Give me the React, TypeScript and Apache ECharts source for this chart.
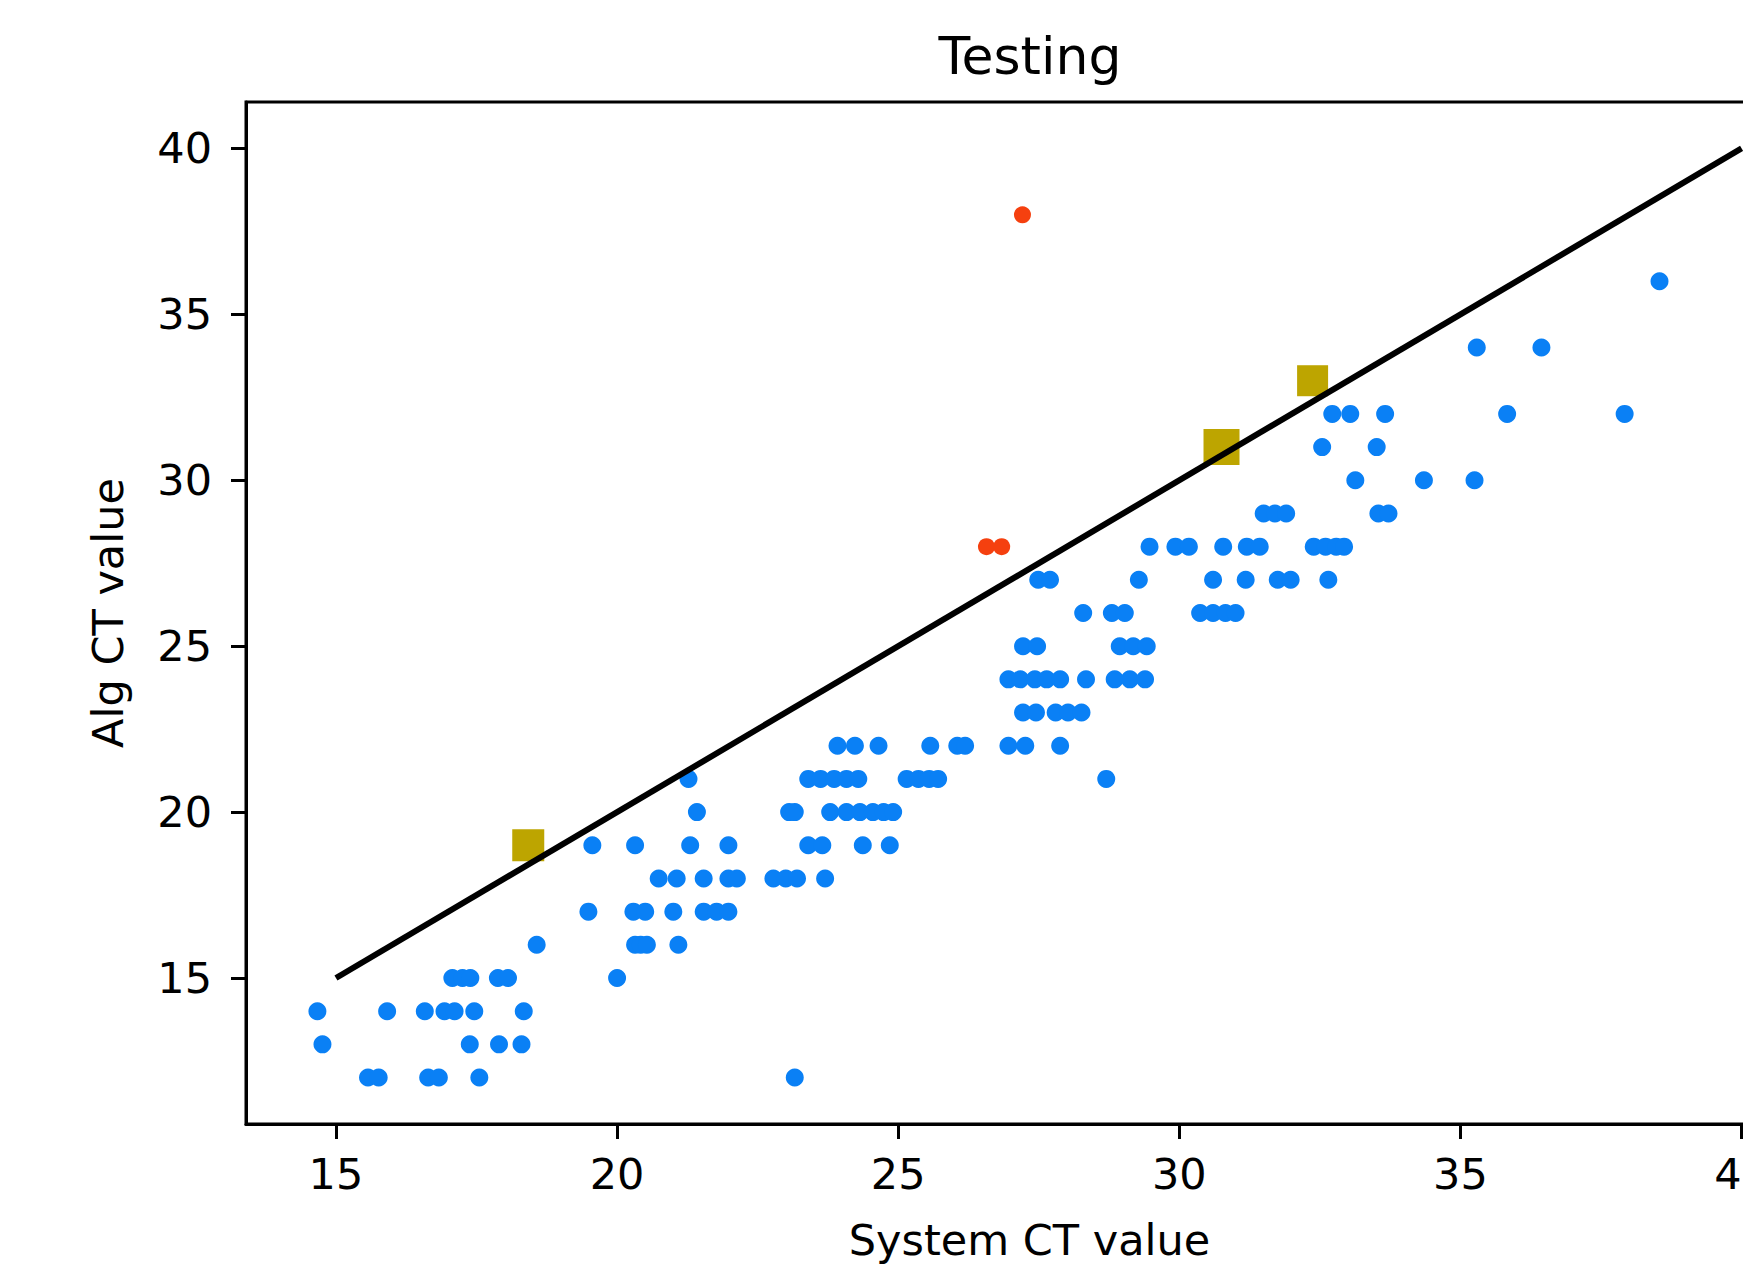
import React, { useEffect, useRef } from "react";
import * as echarts from "echarts";

const xTicks = [15, 20, 25, 30, 35, 40];
const yTicks = [15, 20, 25, 30, 35, 40];

const bluePoints: [number, number][] = [
  [38.54, 36],
  [35.29, 34], [36.44, 34],
  [32.72, 32], [33.04, 32], [33.66, 32], [35.83, 32], [37.92, 32],
  [32.54, 31], [33.51, 31],
  [33.13, 30], [34.35, 30], [35.25, 30],
  [31.5, 29], [31.7, 29], [31.9, 29], [33.54, 29], [33.72, 29],
  [29.47, 28], [29.93, 28], [30.17, 28], [30.78, 28], [31.2, 28], [31.43, 28], [32.39, 28], [32.6, 28], [32.79, 28], [32.93, 28],
  [27.49, 27], [27.7, 27], [29.28, 27], [30.6, 27], [31.18, 27], [31.75, 27], [31.98, 27], [32.65, 27],
  [28.29, 26], [28.8, 26], [29.03, 26], [30.37, 26], [30.6, 26], [30.82, 26], [31.0, 26],
  [27.22, 25], [27.47, 25], [28.94, 25], [29.18, 25], [29.42, 25],
  [26.96, 24], [27.17, 24], [27.43, 24], [27.64, 24], [27.88, 24], [28.34, 24], [28.85, 24], [29.12, 24], [29.39, 24],
  [27.22, 23], [27.45, 23], [27.8, 23], [28.02, 23], [28.26, 23],
  [23.92, 22], [24.23, 22], [24.65, 22], [25.57, 22], [26.05, 22], [26.19, 22], [26.96, 22], [27.26, 22], [27.88, 22],
  [21.27, 21], [23.4, 21], [23.62, 21], [23.86, 21], [24.08, 21], [24.29, 21], [25.15, 21], [25.36, 21], [25.55, 21], [25.71, 21], [28.7, 21],
  [21.42, 20], [23.06, 20], [23.16, 20], [23.79, 20], [24.08, 20], [24.32, 20], [24.55, 20], [24.74, 20], [24.91, 20],
  [19.56, 19], [20.32, 19], [21.3, 19], [21.98, 19], [23.4, 19], [23.65, 19], [24.37, 19], [24.85, 19],
  [20.74, 18], [21.06, 18], [21.54, 18], [21.98, 18], [22.13, 18], [22.78, 18], [23.0, 18], [23.2, 18], [23.7, 18],
  [19.49, 17], [20.29, 17], [20.5, 17], [21.0, 17], [21.54, 17], [21.77, 17], [21.98, 17],
  [18.57, 16], [20.32, 16], [20.42, 16], [20.53, 16], [21.09, 16],
  [17.07, 15], [17.25, 15], [17.39, 15], [17.88, 15], [18.06, 15], [20.0, 15],
  [14.67, 14], [15.91, 14], [16.58, 14], [16.93, 14], [17.11, 14], [17.46, 14], [18.34, 14],
  [14.76, 13], [17.38, 13], [17.9, 13], [18.3, 13],
  [15.57, 12], [15.76, 12], [16.64, 12], [16.83, 12], [17.55, 12], [23.16, 12],
];

const redPoints: [number, number][] = [
  [27.21, 38],
  [26.57, 28],
  [26.84, 28],
];

const yellowPoints: [number, number][] = [
  [18.42, 19],
  [30.75, 31],
  [32.37, 33],
];
const yellowSizes = [32, 36, 31];

const refLine: [number, number][] = [
  [15, 15],
  [40, 40],
];

const FONT = "DejaVu Sans";

export default function App() {
  const ref = useRef<HTMLDivElement>(null);
  useEffect(() => {
    document.body.style.margin = "0";
    document.body.style.overflow = "hidden";
    document.documentElement.style.overflow = "hidden";
    const chart = echarts.init(ref.current!, null, { renderer: "svg" });
    chart.setOption({
      animation: false,
      backgroundColor: "#ffffff",
      textStyle: { fontFamily: FONT },
      graphic: [
        {
          type: "text",
          x: 1030,
          y: 30,
          style: {
            text: "Testing",
            fontSize: 52,
            fontFamily: FONT,
            fill: "#000",
            textAlign: "center",
            textVerticalAlign: "top",
          },
        },
      ],
      grid: {
        left: 246,
        top: 102,
        width: 1567,
        height: 1022,
        show: true,
        borderColor: "#000",
        borderWidth: 3,
        backgroundColor: "transparent",
      },
      xAxis: {
        type: "value",
        min: 13.4,
        max: 41.27,
        name: "System CT value",
        nameLocation: "middle",
        nameGap: 94,
        nameTextStyle: { fontSize: 43, fontFamily: FONT, color: "#000" },
        axisLine: { show: true, onZero: false, lineStyle: { color: "#000", width: 3 } },
        axisTick: {
          show: true,
          inside: false,
          length: 15,
          customValues: xTicks,
          lineStyle: { color: "#000", width: 3 },
        },
        axisLabel: {
          customValues: xTicks,
          fontSize: 43,
          fontFamily: FONT,
          color: "#000",
          margin: 28,
        },
        splitLine: { show: false },
      },
      yAxis: {
        type: "value",
        min: 10.6,
        max: 41.4,
        name: "Alg CT value",
        nameLocation: "middle",
        nameRotate: 90,
        nameGap: 117,
        nameTextStyle: { fontSize: 43, fontFamily: FONT, color: "#000" },
        axisLine: { show: true, onZero: false, lineStyle: { color: "#000", width: 3 } },
        axisTick: {
          show: true,
          inside: false,
          length: 15,
          customValues: yTicks,
          lineStyle: { color: "#000", width: 3 },
        },
        axisLabel: {
          customValues: yTicks,
          fontSize: 43,
          fontFamily: FONT,
          color: "#000",
          margin: 34,
        },
        splitLine: { show: false },
      },
      series: [
        {
          type: "scatter",
          data: bluePoints,
          symbol: "circle",
          symbolSize: 18,
          itemStyle: { color: "#0a80f5", opacity: 1 },
          z: 2,
        },
        {
          type: "scatter",
          data: redPoints,
          symbol: "circle",
          symbolSize: 17,
          itemStyle: { color: "#f5400f", opacity: 1 },
          z: 2,
        },
        {
          type: "scatter",
          data: yellowPoints,
          symbol: "rect",
          symbolSize: (_v: any, p: any) => yellowSizes[p.dataIndex],
          itemStyle: { color: "#bda500", opacity: 1 },
          z: 2,
        },
        {
          type: "line",
          data: refLine,
          showSymbol: false,
          symbol: "none",
          lineStyle: { color: "#000", width: 6 },
          z: 3,
        },
      ],
    });
    return () => chart.dispose();
  }, []);
  return <div ref={ref} style={{ width: 1840, height: 1268, background: "#fff" }} />;
}
